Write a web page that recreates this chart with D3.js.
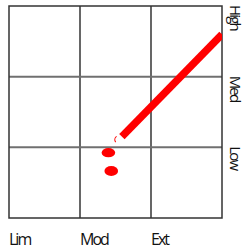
<!DOCTYPE html>
<html><head><meta charset="utf-8">
<script src="https://cdn.jsdelivr.net/npm/d3@7"></script>
<style>body{margin:0;background:#fff}svg{display:block}</style>
</head><body>
<svg id="c" width="246" height="249"></svg>
<script>
const xCategories = ["Lim", "Mod", "Ext"];
const yCategories = ["Low", "Med", "High"];
const trendLine = [{x: 1.59, y: 1.15}, {x: 3.0, y: 2.6}];
const blobs = [{x: 1.4, y: 0.925}, {x: 1.44, y: 0.665}];

const svg = d3.select("#c");
const x = d3.scaleLinear().domain([0, 3]).range([9, 222]);
const y = d3.scaleLinear().domain([0, 3]).range([218, 6]);

// grid lines
svg.selectAll("line.v").data([1, 2]).join("line")
  .attr("x1", d => x(d)).attr("x2", d => x(d))
  .attr("y1", y(3)).attr("y2", y(0))
  .attr("stroke", "#000").attr("stroke-width", 1.2);
svg.selectAll("line.h").data([1, 2]).join("line")
  .attr("x1", x(0)).attr("x2", x(3))
  .attr("y1", d => y(d)).attr("y2", d => y(d))
  .attr("stroke", "#707070").attr("stroke-width", 2);
svg.append("rect")
  .attr("x", x(0)).attr("y", y(3))
  .attr("width", x(3) - x(0)).attr("height", y(0) - y(3))
  .attr("fill", "none").attr("stroke", "#333").attr("stroke-width", 1.5);

// trend line
const g = svg.append("g").attr("clip-path", "url(#clip)");
svg.append("clipPath").attr("id", "clip").append("rect")
  .attr("x", x(0)).attr("y", y(3)).attr("width", x(3) - x(0)).attr("height", y(0) - y(3));
g.append("path")
  .datum(trendLine)
  .attr("d", d3.line().x(d => x(d.x)).y(d => y(d.y)))
  .attr("stroke", "#ff0000").attr("stroke-width", 7.5).attr("fill", "none");
// small arc fragment at start
const p0 = trendLine[0];
g.append("path")
  .attr("d", d3.arc()({innerRadius: 3.5, outerRadius: 4.6, startAngle: -2.2, endAngle: -0.6}))
  .attr("transform", `translate(${x(p0.x) - 3},${y(p0.y) + 3})`)
  .attr("fill", "#ff0000");

// blobs
g.selectAll("ellipse").data(blobs).join("ellipse")
  .attr("cx", d => x(d.x)).attr("cy", d => y(d.y))
  .attr("rx", 6.8).attr("ry", (d, i) => i === 0 ? 4.6 : 5)
  .attr("fill", "#ff0000");

const FONT = "'Open Sans', sans-serif";

// x labels
svg.selectAll("text.xl").data(xCategories).join("text")
  .attr("x", (d, i) => x(i)).attr("y", 245)
  .attr("font-family", FONT).attr("font-size", 16)
  .attr("letter-spacing", -2)
  .attr("fill", "#111").text(d => d);

// y labels (rotated)
svg.selectAll("text.yl").data(yCategories).join("text")
  .attr("transform", (d, i) => `translate(229.5,${y(i + 1) - 1}) rotate(90)`)
  .attr("x", 0).attr("y", 0)
  .attr("font-family", FONT).attr("font-size", 15)
  .attr("letter-spacing", -1.8)
  .attr("fill", "#111").text(d => d);
</script>
</body></html>
